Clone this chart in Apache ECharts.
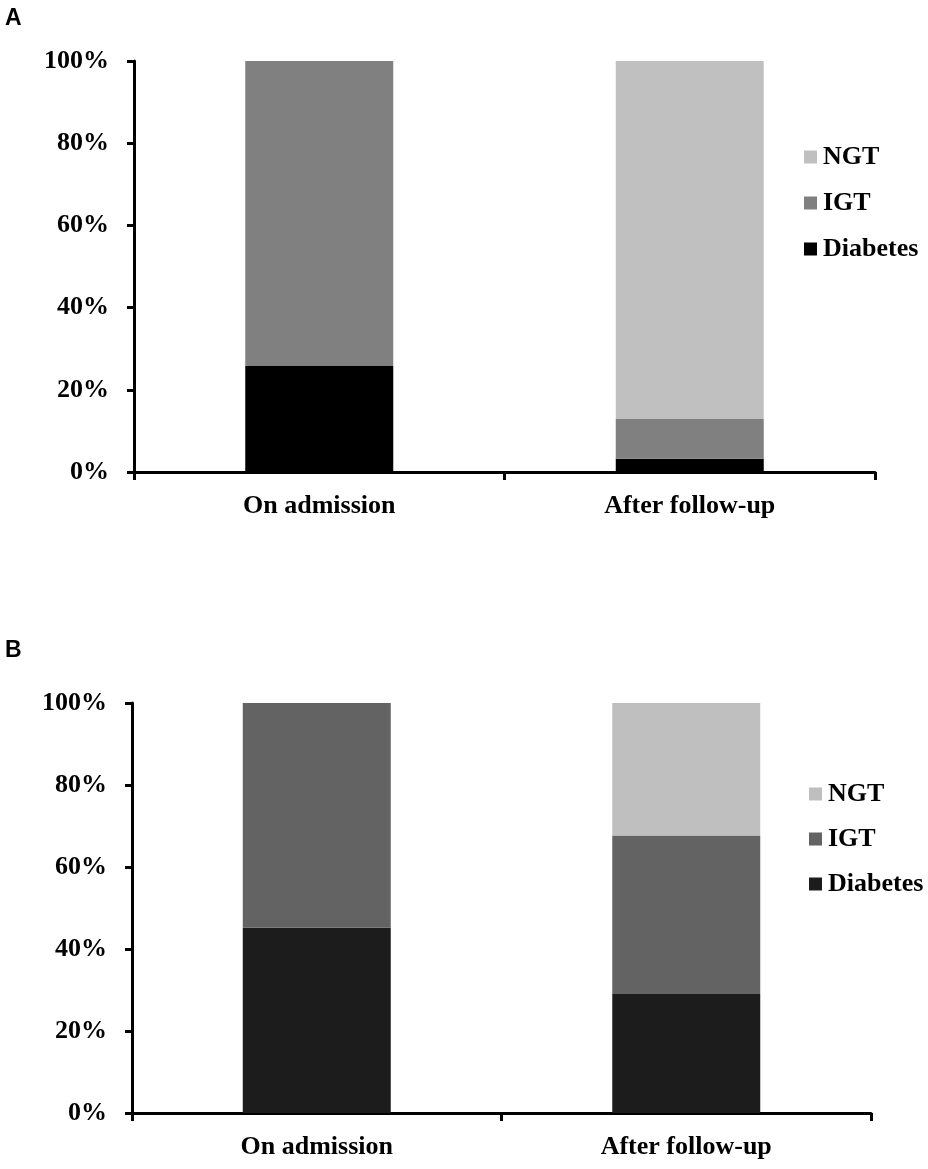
<!DOCTYPE html>
<html>
<head>
<meta charset="utf-8">
<script src="https://cdn.jsdelivr.net/npm/echarts@6/dist/echarts.min.js"></script>
<style>
  html, body { margin: 0; padding: 0; background: #fff; }
  #main { width: 928px; height: 1169px; }
</style>
</head>
<body>
<div id="main"></div>
<script>
var categories = ['On admission', 'After follow-up'];
var yTicks = [0, 20, 40, 60, 80, 100];

// panel A (percent)
var diabetesA = [25.8, 3.2];
var igtA = [74.2, 9.7];
var ngtA = [0, 87.1];

// panel B (percent)
var diabetesB = [45.2, 29.0];
var igtB = [54.8, 38.7];
var ngtB = [0, 32.3];

var serif = '"Liberation Serif", "Times New Roman", serif';
var sans = '"Liberation Sans", Arial, sans-serif';

var dom = document.getElementById('main');
var myChart = echarts.init(dom);

function xAxis(idx) {
    return {
        type: 'category',
        gridIndex: idx,
        data: categories,
        boundaryGap: true,
        axisLine: { lineStyle: { color: '#000', width: 3 } },
        axisTick: { show: true, interval: 0, alignWithLabel: false, length: 8, lineStyle: { color: '#000', width: 3 } },
        axisLabel: { color: '#000', fontFamily: serif, fontWeight: 'bold', fontSize: 26, margin: 21 }
    };
}

function yAxis(idx) {
    return {
        type: 'value',
        gridIndex: idx,
        min: yTicks[0],
        max: yTicks[yTicks.length - 1],
        interval: 20,
        axisLine: { show: true, lineStyle: { color: '#000', width: 3 } },
        axisTick: { show: true, length: 7, lineStyle: { color: '#000', width: 3 } },
        splitLine: { show: false },
        axisLabel: { color: '#000', fontFamily: serif, fontWeight: 'bold', fontSize: 26, margin: 25, formatter: '{value}%' }
    };
}

function bar(name, data, idx, color) {
    return {
        name: name,
        type: 'bar',
        stack: 'panel' + idx,
        xAxisIndex: idx,
        yAxisIndex: idx,
        barWidth: 148,
        data: data,
        itemStyle: { color: color },
        emphasis: { disabled: true }
    };
}

function legend(left, top, gap, colors) {
    return {
        orient: 'vertical',
        left: left,
        top: top,
        padding: 0,
        itemWidth: 13,
        itemHeight: 13,
        itemGap: gap,
        icon: 'rect',
        textStyle: { color: '#000', fontFamily: serif, fontWeight: 'bold', fontSize: 26, padding: [0, 0, 0, 1] },
        data: [
            { name: 'NGT', itemStyle: { color: colors[0] } },
            { name: 'IGT', itemStyle: { color: colors[1] } },
            { name: 'Diabetes', itemStyle: { color: colors[2] } }
        ]
    };
}

var option = {
    animation: false,
    backgroundColor: '#fff',
    title: [
        { text: 'A', left: 0, top: 2, textStyle: { fontFamily: sans, fontWeight: 'bold', fontSize: 23, color: '#000' } },
        { text: 'B', left: 0, top: 634, textStyle: { fontFamily: sans, fontWeight: 'bold', fontSize: 23, color: '#000' } }
    ],
    legend: [
        legend(804, 144, 20, ['#c0c0c0', '#808080', '#000000']),
        legend(809, 781, 19, ['#bfbfbf', '#636363', '#1c1c1c'])
    ],
    grid: [
        { left: 134, right: 53, top: 61, height: 411 },
        { left: 132, right: 57, top: 703, height: 410 }
    ],
    xAxis: [xAxis(0), xAxis(1)],
    yAxis: [yAxis(0), yAxis(1)],
    series: [
        bar('Diabetes', diabetesA, 0, '#000000'),
        bar('IGT', igtA, 0, '#808080'),
        bar('NGT', ngtA, 0, '#c0c0c0'),
        bar('Diabetes', diabetesB, 1, '#1c1c1c'),
        bar('IGT', igtB, 1, '#636363'),
        bar('NGT', ngtB, 1, '#bfbfbf')
    ]
};

if (option && typeof option === 'object') {
    myChart.setOption(option, true);
}
</script>
</body>
</html>
